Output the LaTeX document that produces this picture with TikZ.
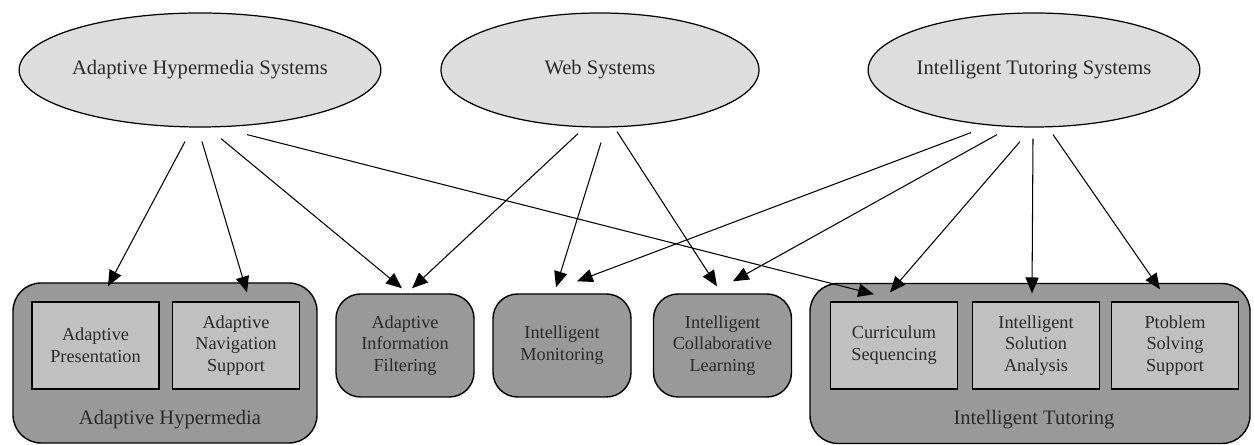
\documentclass[tikz,border=0pt]{standalone}
\usepackage{fontspec}
\setmainfont{Liberation Serif}
\usetikzlibrary{arrows.meta,shapes.geometric}
\definecolor{sysgray}{HTML}{DDDDDD}
\definecolor{areagray}{HTML}{999999}
\definecolor{boxgray}{HTML}{C0C0C0}
\definecolor{inkgray}{HTML}{2A2A2A}

\begin{document}
\begin{tikzpicture}[
    font=\fontsize{10.4}{12.4}\selectfont, text=inkgray,
    system/.style={draw, ellipse, fill=sysgray, line width=0.7pt, inner sep=0pt,
        minimum width=6.36cm, minimum height=2.28cm, font=\fontsize{11.7}{14}\selectfont},
    area/.style={draw, rounded corners=16pt, fill=areagray, line width=0.8pt,
        minimum height=3.2cm},
    arealabel/.style={font=\fontsize{11.7}{14}\selectfont},
    technique/.style={draw, fill=boxgray, line width=0.8pt, align=center,
        minimum width=2.54cm, minimum height=1.74cm, inner sep=2pt},
    feature/.style={draw, rounded corners=14pt, fill=areagray, line width=0.8pt,
        align=center, minimum width=2.76cm, minimum height=2.06cm},
    link/.style={-{Triangle[length=9pt, width=7.5pt]}, line width=0.6pt},
]
    \useasboundingbox (0,0) rectangle (25.08,8.9);
    \node[system] (ahs) at (4.0,7.5) {Adaptive Hypermedia Systems};
    \node[system] (web) at (12.0,7.5) {Web Systems};
    \node[system] (its) at (20.68,7.5) {Intelligent Tutoring Systems};

    \node[area, minimum width=6.08cm] (hyper) at (3.3,1.64) {};
    \node[technique] (pres) at (1.91,1.99) {Adaptive\\Presentation};
    \node[technique] (nav) at (4.72,1.99) {Adaptive\\Navigation\\Support};
    \node[arealabel] (hyperlabel) at (3.4,0.5) {Adaptive Hypermedia};

    \node[feature] (filter) at (8.1,1.99) {Adaptive\\Information\\Filtering};
    \node[feature] (monitor) at (11.24,1.99) {Intelligent\\Monitoring};
    \node[feature] (collab) at (14.45,1.99) {Intelligent\\Collaborative\\Learning};

    \node[area, minimum width=8.8cm] (tutor) at (20.6,1.63) {};
    \node[technique] (curric) at (17.88,1.99) {Curriculum\\Sequencing};
    \node[technique] (solution) at (20.72,1.99) {Intelligent\\Solution\\Analysis};
    \node[technique] (problem) at (23.5,1.99) {Ptoblem\\Solving\\Support};
    \node[arealabel] (tutorlabel) at (20.68,0.5) {Intelligent Tutoring};

    % adaptive hypermedia systems
    \draw[link] ([xshift=-0.30cm, yshift=-0.28cm]ahs.south) -- ([xshift=0.25cm, yshift=0.30cm]pres.north);
    \draw[link] ([xshift=0.04cm, yshift=-0.28cm]ahs.south) -- ([xshift=0.22cm, yshift=0.18cm]nav.north);
    \draw[link] ([xshift=0.42cm, yshift=-0.22cm]ahs.south) -- ([xshift=-0.06cm, yshift=0.10cm]filter.north);
    \draw[link] ([xshift=0.94cm, yshift=-0.14cm]ahs.south) -- ([xshift=-0.40cm, yshift=0.14cm]curric.north);
    % web systems
    \draw[link] ([xshift=-0.44cm, yshift=-0.12cm]web.south) -- ([xshift=0.14cm, yshift=0.10cm]filter.north);
    \draw[link] ([xshift=0.02cm, yshift=-0.30cm]web.south) -- ([xshift=-0.12cm, yshift=0.12cm]monitor.north);
    \draw[link] ([xshift=0.34cm, yshift=-0.08cm]web.south) -- ([xshift=-0.11cm, yshift=0.14cm]collab.north);
    % intelligent tutoring systems
    \draw[link] ([xshift=-1.26cm, yshift=-0.10cm]its.south) -- ([xshift=0.30cm, yshift=0.24cm]monitor.north);
    \draw[link] ([xshift=-0.74cm, yshift=-0.14cm]its.south) -- ([xshift=0.21cm, yshift=0.24cm]collab.north);
    \draw[link] ([xshift=-0.28cm, yshift=-0.28cm]its.south) -- ([xshift=-0.08cm, yshift=0.18cm]curric.north);
    \draw[link] ([xshift=-0.02cm, yshift=-0.22cm]its.south) -- ([xshift=-0.08cm, yshift=0.16cm]solution.north);
    \draw[link] ([xshift=0.38cm, yshift=-0.14cm]its.south) -- ([xshift=-0.30cm, yshift=0.24cm]problem.north);
\end{tikzpicture}
\end{document}
